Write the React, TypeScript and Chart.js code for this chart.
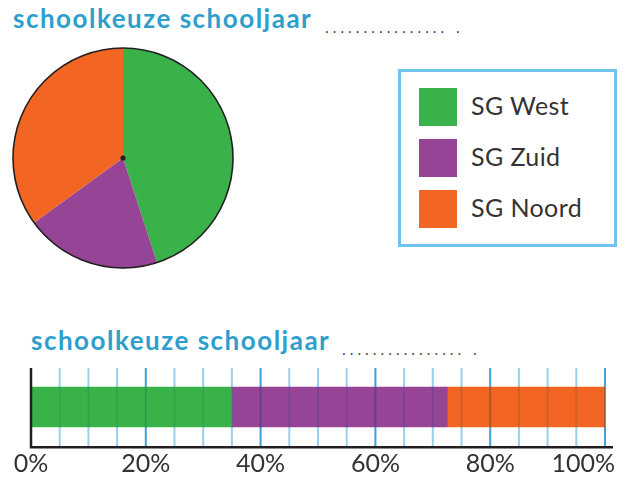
import React, { useEffect, useRef } from 'react';
import { Chart, registerables } from 'chart.js';

Chart.register(...registerables);

const titleText = 'schoolkeuze schooljaar';
const dotsText = '................ .';
const schools = ['SG West', 'SG Zuid', 'SG Noord'];
const schoolColors = ['#39b24a', '#954496', '#f26522'];
const pieShares = [45, 20, 35];
const barShares = [35, 37.5, 27.5];
const barCategories = ['schooljaar'];
const axisMax = 100;
const gridStep = 5;
const labelStep = 20;

const TEXT = '#333333';
const TITLE_BLUE = '#2e9fcd';
const INK = '#231f20';

const pieOutline = {
  id: 'pieOutline',
  afterDatasetsDraw(chart: any) {
    const arc = chart.getDatasetMeta(0).data[0];
    if (!arc) return;
    const { x, y, outerRadius } = arc.getProps(['x', 'y', 'outerRadius'], true);
    const ctx = chart.ctx;
    ctx.save();
    ctx.beginPath();
    ctx.arc(x, y, outerRadius, 0, Math.PI * 2);
    ctx.lineWidth = 1.6;
    ctx.strokeStyle = INK;
    ctx.stroke();
    ctx.beginPath();
    ctx.arc(x, y, 2.6, 0, Math.PI * 2);
    ctx.fillStyle = INK;
    ctx.fill();
    ctx.restore();
  },
};

function drawGrid(chart: any, alpha: number, mode: string) {
  const ctx = chart.ctx;
  const xs = chart.scales.x;
  const area = chart.chartArea;
  ctx.save();
  ctx.globalCompositeOperation = mode;
  ctx.globalAlpha = alpha;
  ctx.lineWidth = 2;
  for (const t of xs.ticks) {
    const px = xs.getPixelForValue(t.value);
    const major = t.value % labelStep === 0;
    ctx.strokeStyle = major ? '#5ab9e8' : '#b4dcf3';
    ctx.beginPath();
    ctx.moveTo(px, area.top);
    ctx.lineTo(px, area.bottom);
    ctx.stroke();
  }
  ctx.restore();
}

const barDecor = {
  id: 'barDecor',
  beforeDatasetsDraw(chart: any) {
    drawGrid(chart, 1, 'source-over');
  },
  afterDatasetsDraw(chart: any) {
    drawGrid(chart, 0.45, 'multiply');
    const ctx = chart.ctx;
    const xs = chart.scales.x;
    const area = chart.chartArea;
    ctx.save();
    const x0 = xs.getPixelForValue(0);
    const x1 = xs.getPixelForValue(axisMax);
    ctx.strokeStyle = INK;
    ctx.lineWidth = 2.5;
    ctx.beginPath();
    ctx.moveTo(x0, area.top);
    ctx.lineTo(x0, area.bottom + 1.2);
    ctx.lineTo(x1 + 8, area.bottom + 1.2);
    ctx.stroke();
    ctx.fillStyle = TEXT;
    ctx.font = '400 25px Lato';
    ctx.textAlign = 'center';
    ctx.textBaseline = 'alphabetic';
    for (const t of xs.ticks) {
      if (t.value % labelStep !== 0) continue;
      const label = `${t.value}%`;
      const w = ctx.measureText(label).width;
      let px = xs.getPixelForValue(t.value);
      px = Math.min(px, chart.width - 15 - w / 2);
      ctx.fillText(label, px, area.bottom + 26);
    }
    ctx.restore();
  },
};

function PieChart() {
  const ref = useRef<HTMLCanvasElement | null>(null);
  useEffect(() => {
    if (!ref.current) return;
    const chart = new Chart(ref.current, {
      type: 'pie',
      data: {
        labels: schools,
        datasets: [
          {
            data: pieShares,
            backgroundColor: schoolColors,
            borderWidth: 0,
          },
        ],
      },
      options: {
        animation: false,
        responsive: false,
        events: [],
        layout: { padding: 3 },
        plugins: { legend: { display: false }, tooltip: { enabled: false } },
      },
      plugins: [pieOutline],
    });
    return () => chart.destroy();
  }, []);
  return (
    <canvas
      ref={ref}
      width={226}
      height={226}
      style={{ position: 'absolute', left: 10, top: 45, width: 226, height: 226 }}
    />
  );
}

function BarChart() {
  const ref = useRef<HTMLCanvasElement | null>(null);
  useEffect(() => {
    if (!ref.current) return;
    const chart = new Chart(ref.current, {
      type: 'bar',
      data: {
        labels: barCategories,
        datasets: schools.map((name, i) => ({
          label: name,
          data: [barShares[i]],
          backgroundColor: schoolColors[i],
          borderWidth: 0,
          barThickness: 40,
        })),
      },
      options: {
        indexAxis: 'y',
        animation: false,
        responsive: false,
        events: [],
        layout: { padding: { left: 31, right: 25, top: 8, bottom: 33 } },
        scales: {
          x: {
            display: false,
            stacked: true,
            min: 0,
            max: axisMax,
            ticks: { stepSize: gridStep },
          },
          y: { display: false, stacked: true },
        },
        plugins: { legend: { display: false }, tooltip: { enabled: false } },
      },
      plugins: [barDecor],
    });
    return () => chart.destroy();
  }, []);
  return (
    <canvas
      ref={ref}
      width={630}
      height={119}
      style={{ position: 'absolute', left: 0, top: 360, width: 630, height: 119 }}
    />
  );
}

function Title({ left, top, dotsLeft }: { left: number; top: number; dotsLeft: number }) {
  return (
    <>
      <div
        style={{
          position: 'absolute',
          left,
          top,
          whiteSpace: 'nowrap',
          lineHeight: '30px',
          fontFamily: 'Lato',
          fontWeight: 700,
          fontSize: 26,
          letterSpacing: 1.5,
          color: TITLE_BLUE,
        }}
      >
        {titleText}
      </div>
      <div
        style={{
          position: 'absolute',
          left: dotsLeft - 3,
          top: top + 16,
          whiteSpace: 'pre',
          lineHeight: '20px',
          fontFamily: '"DejaVu Sans Mono"',
          fontSize: 12.8,
          color: '#444',
        }}
      >
        {dotsText}
      </div>
    </>
  );
}

function Legend() {
  return (
    <div
      style={{
        position: 'absolute',
        left: 398,
        top: 69,
        width: 219,
        height: 178,
        boxSizing: 'border-box',
        border: '3px solid #6ec4ec',
        background: '#fff',
      }}
    >
      {schools.map((name, i) => (
        <React.Fragment key={name}>
          <div
            style={{
              position: 'absolute',
              left: 18,
              top: 16 + i * 51,
              width: 38,
              height: 38,
              background: schoolColors[i],
            }}
          />
          <div
            style={{
              position: 'absolute',
              left: 70,
              top: 14 + i * 51,
              lineHeight: '38px',
              fontFamily: 'Lato',
              fontSize: 25,
              letterSpacing: 0.4,
              color: TEXT,
              whiteSpace: 'nowrap',
            }}
          >
            {name}
          </div>
        </React.Fragment>
      ))}
    </div>
  );
}

export default function App() {
  return (
    <div
      style={{
        position: 'absolute',
        left: 0,
        top: 0,
        width: 630,
        height: 479,
        background: '#fff',
        overflow: 'hidden',
      }}
    >
      <Title left={13} top={3} dotsLeft={326} />
      <PieChart />
      <Legend />
      <Title left={31} top={325} dotsLeft={343} />
      <BarChart />
    </div>
  );
}
